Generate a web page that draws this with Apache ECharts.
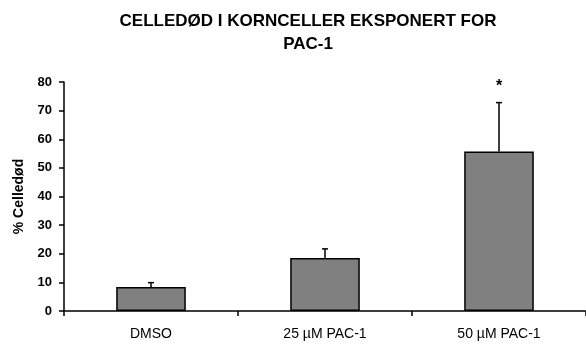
<!DOCTYPE html>
<html>
<head>
<meta charset="utf-8">
<script src="https://cdn.jsdelivr.net/npm/echarts@6/dist/echarts.min.js"></script>
<style>
  html, body { margin: 0; padding: 0; background: #fff; }
  #chart { width: 586px; height: 349px; }
</style>
</head>
<body>
<div id="chart"></div>
<script>
// Cell death in granule cells exposed to PAC-1
const categories = ['DMSO', '25 µM PAC-1', '50 µM PAC-1'];
const means = [8.4, 18.5, 55.7];        // % celledød
const errors = [1.5, 3.2, 17.1];        // upper error (SD)
const marks = ['', '', '*'];            // significance markers
const yTicks = { min: 0, max: 80, interval: 10 };

const font = 'Liberation Sans, Arial, sans-serif';
const chart = echarts.init(document.getElementById('chart'));

const errData = means.map((m, i) => [i, m, m + errors[i], marks[i]]);

chart.setOption({
  animation: false,
  title: {
    text: 'CELLEDØD I KORNCELLER EKSPONERT FOR\nPAC-1',
    left: 303,
    top: 5,
    textAlign: 'center',
    textStyle: { fontFamily: font, fontSize: 17, fontWeight: 'bold', color: '#000', lineHeight: 23 }
  },
  grid: { left: 64, top: 82, width: 526, height: 229, containLabel: false },
  xAxis: {
    type: 'category',
    data: categories,
    axisLine: { lineStyle: { color: '#000', width: 1.5 } },
    axisTick: { show: true, length: 5, alignWithLabel: false, lineStyle: { color: '#000', width: 1.5 } },
    axisLabel: { color: '#000', fontFamily: font, fontSize: 14, margin: 16, interval: 0 },
    splitLine: { show: false }
  },
  yAxis: {
    type: 'value',
    min: yTicks.min,
    max: yTicks.max,
    interval: yTicks.interval,
    name: '% Celledød',
    nameLocation: 'middle',
    nameRotate: 90,
    nameGap: 38,
    nameTextStyle: { color: '#000', fontFamily: font, fontSize: 14, fontWeight: 'bold' },
    axisLine: { show: true, lineStyle: { color: '#000', width: 1.5 } },
    axisTick: { show: true, length: 5, lineStyle: { color: '#000', width: 1.5 } },
    axisLabel: { color: '#000', fontFamily: font, fontSize: 13, fontWeight: 'bold', margin: 12 },
    splitLine: { show: false }
  },
  series: [
    {
      type: 'bar',
      data: means,
      barWidth: '40%',
      itemStyle: { color: '#808080', borderColor: '#000', borderWidth: 1.5 },
      z: 2
    },
    {
      type: 'custom',
      data: errData,
      z: 3,
      renderItem: function (params, api) {
        const i = api.value(0);
        const base = api.coord([i, api.value(1)]);
        const top = api.coord([i, api.value(2)]);
        const cap = 3;
        const children = [
          { type: 'line', shape: { x1: base[0], y1: base[1], x2: top[0], y2: top[1] },
            style: { stroke: '#000', lineWidth: 1.5 } },
          { type: 'line', shape: { x1: top[0] - cap, y1: top[1], x2: top[0] + cap, y2: top[1] },
            style: { stroke: '#000', lineWidth: 1.5 } }
        ];
        const mark = marks[i];
        if (mark) {
          children.push({ type: 'text', x: top[0], y: top[1] - 16,
            style: { text: mark, fill: '#000', font: 'bold 16px ' + font, align: 'center', verticalAlign: 'middle' } });
        }
        return { type: 'group', children: children };
      }
    }
  ]
});
</script>
</body>
</html>
